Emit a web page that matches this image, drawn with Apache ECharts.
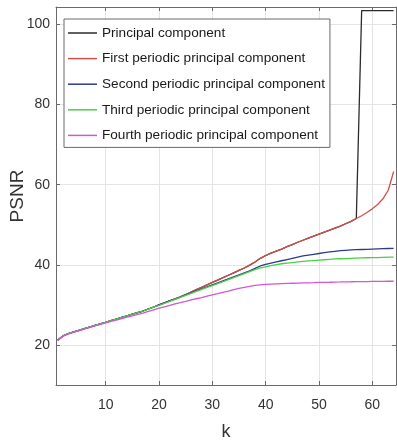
<!DOCTYPE html>
<html>
<head>
<meta charset="utf-8">
<script src="https://cdn.jsdelivr.net/npm/echarts@6/dist/echarts.min.js"></script>
<style>
html,body{margin:0;padding:0;background:#fff;}
#c{width:397px;height:441px;}
</style>
</head>
<body>
<div id="c"></div>
<script>
const seriesNames = ['Principal component', 'First periodic principal component', 'Second periodic principal component', 'Third periodic principal component', 'Fourth periodic principal component'];
const xTicks = [10, 20, 30, 40, 50, 60];
const yTicks = [20, 40, 60, 80, 100];
const kValues = Array.from({length: 64}, (_, i) => i + 1);

const principal = [21.4, 22.4, 23.0, 23.4, 23.8, 24.2, 24.6, 25.0, 25.4, 25.8, 26.2, 26.6, 27.0, 27.4, 27.8, 28.2, 28.6, 29.1, 29.6, 30.1,
  30.6, 31.1, 31.6, 32.1, 32.7, 33.3, 33.9, 34.5, 35.1, 35.7, 36.3, 36.9, 37.5, 38.1, 38.7, 39.3, 40.0, 40.8, 41.7,
  42.4, 43.0, 43.5, 44.0, 44.6, 45.1, 45.7, 46.2, 46.7, 47.2, 47.7, 48.2, 48.7, 49.2, 49.7, 50.3, 50.9, 51.6,
  103.3, 103.3, 103.3, 103.3, 103.3, 103.3, 103.3];
const first = [21.4, 22.4, 23.0, 23.4, 23.8, 24.2, 24.6, 25.0, 25.4, 25.8, 26.2, 26.6, 27.0, 27.4, 27.8, 28.2, 28.6, 29.1, 29.6, 30.1,
  30.6, 31.1, 31.6, 32.1, 32.7, 33.3, 33.9, 34.5, 35.1, 35.7, 36.3, 36.9, 37.5, 38.1, 38.7, 39.3, 40.0, 40.8, 41.7,
  42.4, 43.0, 43.5, 44.0, 44.6, 45.1, 45.7, 46.2, 46.7, 47.2, 47.7, 48.2, 48.7, 49.2, 49.7, 50.3, 50.9, 51.6, 52.3, 53.1, 54.0, 55.1, 56.5, 58.7, 63.3];
const second = [21.4, 22.4, 23.0, 23.4, 23.8, 24.2, 24.6, 25.0, 25.4, 25.8, 26.2, 26.6, 27.0, 27.4, 27.8, 28.2, 28.6, 29.1, 29.6, 30.1, 30.6, 31.1, 31.55, 32.05,
  32.6, 33.1, 33.6, 34.1, 34.6, 35.1, 35.6, 36.1, 36.6, 37.1, 37.6, 38.1, 38.6, 39.2, 39.8, 40.2, 40.5, 40.8, 41.1, 41.4, 41.7, 42.0, 42.3, 42.5, 42.7, 42.9, 43.1, 43.3, 43.45, 43.6, 43.7, 43.8, 43.85, 43.9, 43.95, 44.0, 44.05, 44.1, 44.15, 44.2];
const third = [21.4, 22.4, 23.0, 23.4, 23.8, 24.2, 24.6, 25.0, 25.4, 25.8, 26.2, 26.6, 27.0, 27.4, 27.8, 28.2, 28.6, 29.05, 29.55, 30.0, 30.5, 31.0, 31.5, 32.0,
  32.5, 33.0, 33.5, 34.0, 34.5, 34.9, 35.4, 35.9, 36.4, 36.9, 37.4, 37.9, 38.4, 38.9, 39.3, 39.6, 39.9, 40.15, 40.35, 40.5, 40.65, 40.8, 40.95, 41.05, 41.15, 41.25, 41.35, 41.45, 41.55, 41.6, 41.65, 41.7, 41.75, 41.8, 41.85, 41.9, 41.9, 41.95, 42.0, 42.0];
const fourth = [21.2, 22.3, 22.9, 23.3, 23.7, 24.1, 24.5, 24.9, 25.3, 25.65, 26.0, 26.35, 26.7, 27.05, 27.4, 27.75, 28.1, 28.5, 28.9,
  29.3, 29.65, 30.0, 30.35, 30.7, 31.0, 31.35, 31.65, 31.95, 32.3, 32.6, 32.9, 33.25, 33.55, 33.9, 34.2, 34.5, 34.75, 34.95, 35.1,
  35.2, 35.3, 35.35, 35.4, 35.45, 35.5, 35.55, 35.6, 35.62, 35.65, 35.7, 35.72, 35.75, 35.8, 35.82, 35.85, 35.87, 35.9, 35.9, 35.92, 35.95, 35.95, 35.97, 36.0, 36.0];

const allValues = [principal, first, second, third, fourth];
const colors = ['#2b2b2b', '#d0504c', '#2e3a8c', '#48d048', '#d356d3'];

const FONT = '"Liberation Sans", Arial, sans-serif';
const XMIN = 0.68, XMAX = 64.44, YMIN = 10.2, YMAX = 104.2;

const chart = echarts.init(document.getElementById('c'), null, {renderer: 'canvas'});

function axisCommon(show) {
  return {
    axisLine: {show: true, onZero: false, lineStyle: {color: '#6a6a6a', width: 1}},
    axisTick: {show: true, inside: true, length: 4, lineStyle: {color: '#6a6a6a'}},
    axisLabel: {show: show, color: '#333', fontFamily: FONT, fontSize: 14},
  };
}

const xMain = Object.assign({
  type: 'value', min: XMIN, max: XMAX, position: 'bottom',
  name: 'k', nameLocation: 'middle', nameGap: 38, nameMoveOverlap: false,
  nameTextStyle: {color: '#333', fontFamily: FONT, fontSize: 18},
  splitLine: {show: true, lineStyle: {color: '#e4e4e4', width: 1}},
}, axisCommon(true));
xMain.axisTick.customValues = xTicks;
xMain.axisLabel.customValues = xTicks;
xMain.axisLabel.margin = 13;

const xTop = Object.assign({
  type: 'value', min: XMIN, max: XMAX, position: 'top', splitLine: {show: false},
}, axisCommon(false));
xTop.axisTick.customValues = xTicks;
xTop.axisLabel.customValues = xTicks;

const yMain = Object.assign({
  type: 'value', min: YMIN, max: YMAX, position: 'left',
  name: 'PSNR', nameLocation: 'middle', nameGap: 29, nameRotate: 90, nameMoveOverlap: false,
  nameTextStyle: {color: '#333', fontFamily: FONT, fontSize: 19},
  splitLine: {show: true, lineStyle: {color: '#e4e4e4', width: 1}},
}, axisCommon(true));
yMain.axisTick.customValues = yTicks;
yMain.axisLabel.customValues = yTicks;
yMain.axisLabel.margin = 6;

const yRight = Object.assign({
  type: 'value', min: YMIN, max: YMAX, position: 'right', splitLine: {show: false},
}, axisCommon(false));
yRight.axisTick.customValues = yTicks;
yRight.axisLabel.customValues = yTicks;

chart.setOption({
  animation: false,
  backgroundColor: '#fff',
  grid: {left: 56, top: 7, right: 1, bottom: 56, containLabel: false, outerBoundsMode: 'none'},
  legend: {
    show: true,
    orient: 'vertical',
    left: 64, top: 19,
    data: seriesNames,
    icon: 'rect',
    itemWidth: 29, itemHeight: 1.5,
    itemGap: 11.6,
    padding: [7, 5, 5, 4],
    borderColor: '#6a6a6a', borderWidth: 1,
    backgroundColor: '#fff',
    textStyle: {color: '#1a1a1a', fontFamily: FONT, fontSize: 13.6}
  },
  xAxis: [xMain, xTop],
  yAxis: [yMain, yRight],
  series: allValues.map((vals, i) => ({
    name: seriesNames[i],
    type: 'line',
    xAxisIndex: 0, yAxisIndex: 0,
    data: kValues.map((k, j) => [k, vals[j]]),
    showSymbol: false,
    symbol: 'none',
    color: colors[i],
    lineStyle: {color: colors[i], width: 1.3},
    z: 2 + i
  }))
});
</script>
</body>
</html>
